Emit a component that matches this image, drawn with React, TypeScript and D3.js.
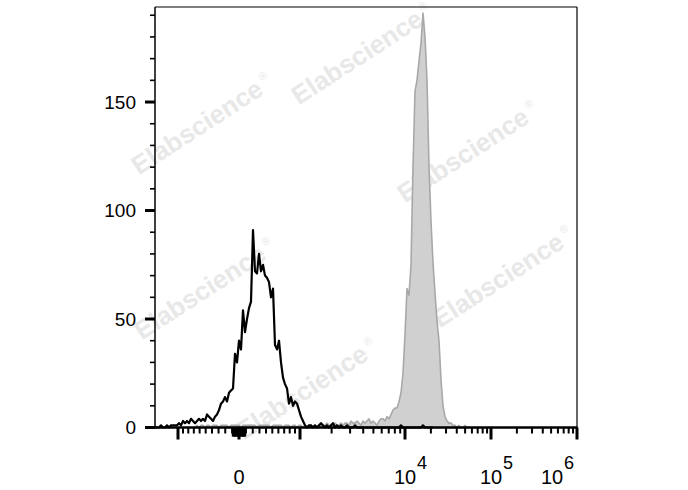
import React from 'react';
import * as d3 from 'd3';

// ---------- data (counts per display channel; 211 channels across the plot) ----------
const channelCount = 211;

// Unstained / control histogram (black line), channel 0 ..
const blackStart = 0;
const blackCounts = [
  0, 0, 0, 1, 0, 0, 1, 0, 1, 1, 1,
  1, 2, 1, 3, 2, 3, 2, 4, 3, 2, 3, 4, 3, 4, 3, 6, 5, 4, 3, 5, 6, 8, 11, 12, 14, 12, 16, 17, 18,
  34, 30, 40, 36, 54, 44, 50, 55, 58, 91, 72, 71, 80, 72, 75, 70, 69, 67, 60, 64,
  38, 36, 40, 30, 23, 20, 18, 11, 14, 10, 12, 11, 8, 5, 3, 1, 0, 1, 1,
  0, 1, 0, 1, 2, 1, 0, 1, 0, 1, 2, 0, 1, 0, 1, 0, 0, 1, 0, 0, 0, 1,
  0, 0, 0, 0, 0, 0, 0, 0, 0, 0, 0, 0, 0, 0, 0, 0, 0, 0, 0, 0, 0, 0, 1,
  0, 0, 0, 0, 0, 0, 0, 0, 0, 0, 1, 0, 0, 0, 0, 0,
];

// Stained histogram (grey filled), channel 20 ..
const greyStart = 20;
const greyCounts = [
  0, 1, 0, 1, 1, 0, 1, 1, 0, 1, 1, 1, 0, 1, 1, 1, 1, 0, 1, 1,
  1, 1, 1, 0, 1, 1, 1, 1, 1, 1, 1, 0, 1, 1, 1, 1, 1, 1, 0, 1,
  1, 1, 1, 1, 0, 1, 1, 1, 0, 1, 1, 0, 1, 1, 0, 1, 0, 1, 1, 0,
  1, 0, 1, 1, 0, 1, 2, 1, 0, 1, 2, 1, 1, 2, 1, 2, 2, 1, 3, 2,
  2, 3, 2, 1, 3, 2, 3, 4, 2, 3,
  2, 1, 3, 4, 4, 3, 5, 4, 6, 8, 9, 9, 12, 16, 25, 43, 64, 61, 75, 120,
  155, 160, 169, 177, 191, 180, 160, 120, 95, 76, 62, 49, 40, 22, 10, 5, 3, 2, 2, 1,
  1, 0, 1, 0, 0, 1, 0, 0, 0, 0,
];

// axis ticks
const yMajorTicks = [0, 50, 100, 150];
const yMinorTicks = [10, 20, 30, 40, 60, 70, 80, 90, 110, 120, 130, 140, 160, 170, 180, 190];
const xMajorTicks = [-1000, 0, 1000, 1e4, 1e5, 1e6];
const xTinyMinor = [10, 20, 30, 40, 50, 60, 70, 80, 90];
const xLinearMinor = [100, 200, 300, 400, 500, 600, 700, 800, 900];
const xLogMultipliers = [2, 3, 4, 5, 6, 7, 8, 9];
const xLogDecades = [1e3, 1e4, 1e5];
const xLabels = [
  { value: 0, base: '0', exp: '' },
  { value: 1e4, base: '10', exp: '4' },
  { value: 1e5, base: '10', exp: '5' },
  { value: 1e6, base: '10', exp: '6' },
];
const yMax = 193.8;
const linearCofactor = 1000;

const watermarkSpots = [
  [197, 127], [357, 57], [463, 155], [200, 292], [498, 280], [302, 392],
];

// ---------- layout ----------
const W = 688, H = 490;
const plotLeft = 155, plotRight = 577, plotTop = 7, plotBottom = 427.5;
const font = "'Liberation Sans', Arial, Helvetica, sans-serif";

export default function App() {
  const x = d3.scaleLinear().domain([0, channelCount]).range([plotLeft, plotRight]);
  const y = d3.scaleLinear().domain([0, yMax]).range([plotBottom, plotTop]);

  // biexponential-like display transform (value -> channel)
  const a1 = Math.asinh(1);
  const innerPart = d3.scaleLinear().domain([-a1, a1]).range([11.5, 72.5]);
  const logPart = d3.scaleLog().domain([1e3, 1e4, 1e5, 1e6]).range([72.5, 125, 168, 211]);
  const xv = (v: number) =>
    x(Math.abs(v) <= 1000 ? innerPart(Math.asinh(v / linearCofactor)) : logPart(v));

  const blackPts = blackCounts.map((c, i) => [blackStart + i, c] as [number, number]);
  const greyPts = greyCounts.map((c, i) => [greyStart + i, c] as [number, number]);

  const line = d3.line<[number, number]>().x(d => x(d[0])).y(d => y(d[1]));
  const area = d3.area<[number, number]>().x(d => x(d[0])).y0(y(0)).y1(d => y(d[1]));

  const minorX: number[] = [];
  xLinearMinor.forEach(v => { minorX.push(v); minorX.push(-v); });
  xLogDecades.forEach(d => xLogMultipliers.forEach(m => minorX.push(d * m)));
  const tinyX: number[] = [];
  xTinyMinor.forEach(v => { tinyX.push(v); tinyX.push(-v); });

  return (
    <svg width={W} height={H} style={{ position: 'absolute', left: 0, top: 0, background: '#fff' }}>
      <rect x={0} y={0} width={W} height={H} fill="#fff" />
      {/* watermarks */}
      {watermarkSpots.map(([cx, cy], i) => (
        <g key={i} transform={`translate(${cx},${cy}) rotate(-33)`}>
          <text x={0} y={9} textAnchor="middle" fontFamily={font} fontWeight="bold" fontSize={26} fill="#e8e8e8">
            Elabscience
          </text>
          <text x={83} y={-3} textAnchor="middle" fontFamily={font} fontSize={11} fill="#e8e8e8">®</text>
        </g>
      ))}

      {/* histograms */}
      <path d={area(greyPts) || ''} fill="#d0d0d0" stroke="#a8a8a8" strokeWidth={1.6} strokeLinejoin="round" />
      <path d={line(blackPts) || ''} fill="none" stroke="#000" strokeWidth={2.2} strokeLinejoin="round" />

      {/* frame */}
      <line x1={plotLeft} x2={plotRight} y1={plotTop} y2={plotTop} stroke="#000" strokeWidth={1.2} />
      <line x1={plotRight} x2={plotRight} y1={plotTop} y2={plotBottom} stroke="#000" strokeWidth={1.2} />
      <line x1={plotLeft} x2={plotLeft} y1={plotTop} y2={plotBottom} stroke="#000" strokeWidth={1.5} />
      <line x1={plotLeft - 10} x2={plotRight + 0.6} y1={plotBottom} y2={plotBottom} stroke="#000" strokeWidth={2.6} />

      {/* y ticks */}
      {yMinorTicks.map(v => (
        <line key={'ym' + v} x1={plotLeft - 5} x2={plotLeft} y1={y(v)} y2={y(v)} stroke="#000" strokeWidth={1.6} />
      ))}
      {yMajorTicks.map(v => (
        <g key={'yM' + v}>
          <line x1={plotLeft - 10} x2={plotLeft} y1={y(v)} y2={y(v)} stroke="#000" strokeWidth={3} />
          <text x={136} y={y(v)} dy="0.36em" textAnchor="end" fontFamily={font} fontSize={19} fill="#000">{v}</text>
        </g>
      ))}

      {/* x ticks */}
      {tinyX.map(v => (
        <line key={'xt' + v} x1={xv(v)} x2={xv(v)} y1={plotBottom} y2={plotBottom + 9} stroke="#000" strokeWidth={2} />
      ))}
      {minorX.map(v => (
        <line key={'xm' + v} x1={xv(v)} x2={xv(v)} y1={plotBottom} y2={plotBottom + 6} stroke="#000" strokeWidth={2} />
      ))}
      {xMajorTicks.map(v => (
        <line key={'xM' + v} x1={xv(v)} x2={xv(v)} y1={plotBottom} y2={plotBottom + 12} stroke="#000" strokeWidth={3} />
      ))}
      {xLabels.map(l => {
        const cx = Math.min(xv(l.value), plotRight - 25);
        return (
          <g key={'xl' + l.value} fontFamily={font} fill="#000">
            <text x={cx} y={484} textAnchor="middle" fontSize={20}>{l.base}</text>
            {l.exp && <text x={cx + 12} y={469} textAnchor="start" fontSize={18}>{l.exp}</text>}
          </g>
        );
      })}
    </svg>
  );
}
